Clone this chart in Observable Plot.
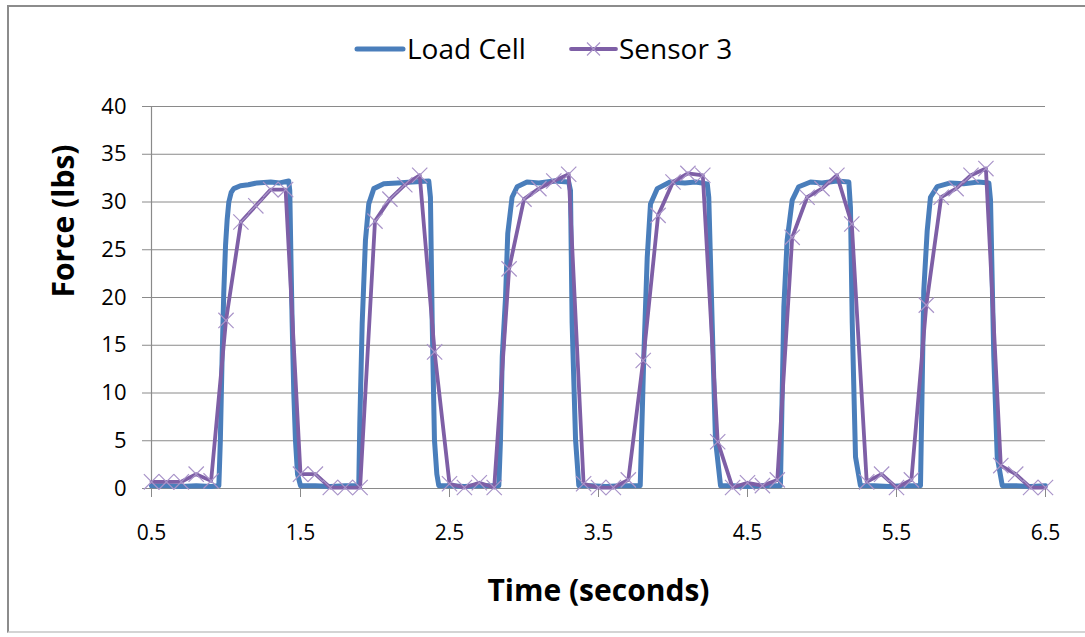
<!DOCTYPE html>
<html>
<head>
<meta charset="utf-8">
<script src="https://cdn.jsdelivr.net/npm/d3@7"></script>
<script src="https://cdn.jsdelivr.net/npm/@observablehq/plot@0.6"></script>
<style>
  html, body { margin: 0; padding: 0; background: #fff; }
  #wrap { position: relative; width: 1085px; height: 637px; overflow: hidden; }
  #border { position: absolute; left: 7px; top: 5px; width: 1090px; height: 628px;
            border: 2px solid #8c8c8c; border-bottom-color: #d4d4d4; box-sizing: border-box; }
  #legend { position: absolute; left: 0; top: 0; }
  #chart { position: absolute; left: 0; top: 0; }
</style>
</head>
<body>
<div id="wrap">
  <div id="border"></div>
  <div id="chart"></div>
  <svg id="legend" width="1085" height="90"></svg>
</div>
<script>
// ---- Data ----
const seriesNames = ["Load Cell", "Sensor 3"];
const xTicks = [0.5, 1.5, 2.5, 3.5, 4.5, 5.5, 6.5];
const yTicks = [0, 5, 10, 15, 20, 25, 30, 35, 40];

// Load Cell (dense signal, key points)
const loadTime = [
  0.50, 0.60, 0.70, 0.80, 0.90, 0.952, 0.962, 0.974, 0.985, 0.997, 1.008, 1.019, 1.035, 1.052, 1.097, 1.15, 1.209, 1.30, 1.36, 1.421,
  1.428, 1.436, 1.444, 1.455, 1.466, 1.48, 1.50, 1.60, 1.70, 1.80, 1.891,
  1.898, 1.914, 1.936, 1.958, 1.992, 2.059, 2.15, 2.25, 2.361, 2.372, 2.384, 2.399, 2.415, 2.428, 2.50, 2.60, 2.70, 2.831,
  2.842, 2.854, 2.876, 2.891, 2.92, 2.954, 3.02, 3.10, 3.20, 3.30, 3.312, 3.323, 3.346, 3.368, 3.45, 3.55, 3.65, 3.78,
  3.804, 3.827, 3.849, 3.894, 3.98, 4.08, 4.15, 4.23, 4.24, 4.263, 4.285, 4.319, 4.40, 4.50, 4.60, 4.721,
  4.744, 4.766, 4.80, 4.844, 4.923, 5.00, 5.10, 5.18, 5.191, 5.203, 5.225, 5.258, 5.35, 5.45, 5.55, 5.661,
  5.683, 5.706, 5.728, 5.773, 5.862, 5.95, 6.05, 6.12, 6.131, 6.153, 6.176, 6.21, 6.30, 6.40, 6.50
];
const loadForce = [
  0.3, 0.3, 0.2, 0.3, 0.2, 0.3, 5.0, 13.8, 20.5, 25.5, 28.2, 30.0, 31.0, 31.4, 31.7, 31.8, 32.0, 32.1, 32.0, 32.2,
  31.2, 24.0, 17.3, 10.0, 5.1, 1.5, 0.3, 0.3, 0.2, 0.3, 0.3,
  6.8, 17.3, 26.0, 29.8, 31.4, 31.9, 32.0, 32.1, 32.2, 30.5, 17.3, 5.1, 1.5, 0.3, 0.3, 0.2, 0.3, 0.3,
  5.0, 13.8, 20.0, 26.7, 30.5, 31.6, 32.1, 32.0, 32.2, 32.1, 31.2, 17.3, 5.1, 0.3, 0.3, 0.2, 0.3, 0.3,
  13.8, 24.2, 29.8, 31.4, 32.1, 32.0, 32.1, 31.9, 30.5, 17.3, 5.1, 0.3, 0.3, 0.2, 0.3, 0.3,
  19.0, 26.0, 30.2, 31.6, 32.1, 32.0, 32.2, 32.1, 29.4, 17.3, 3.3, 0.3, 0.3, 0.2, 0.3, 0.3,
  20.7, 27.0, 30.5, 31.6, 32.0, 31.9, 32.1, 32.0, 30.2, 13.8, 3.3, 0.3, 0.3, 0.2, 0.3
];

// Sensor 3 (sampled every 0.1 s)
const sensorTime = [
  0.5, 0.6, 0.7, 0.8, 0.9, 1.0, 1.1, 1.2, 1.3, 1.4, 1.5, 1.6, 1.7, 1.8, 1.9, 2.0, 2.1, 2.2, 2.3, 2.4,
  2.5, 2.6, 2.7, 2.8, 2.9, 3.0, 3.1, 3.2, 3.3, 3.4, 3.5, 3.6, 3.7, 3.8, 3.9, 4.0, 4.1, 4.2, 4.3, 4.4,
  4.5, 4.6, 4.7, 4.8, 4.9, 5.0, 5.1, 5.2, 5.3, 5.4, 5.5, 5.6, 5.7, 5.8, 5.9, 6.0, 6.1, 6.2, 6.3, 6.4, 6.5
];
const sensorForce = [
  0.7, 0.7, 0.7, 1.5, 0.8, 17.6, 27.9, 29.6, 31.3, 31.3, 1.5, 1.5, 0.1, 0.1, 0.1, 28.0, 30.3, 31.8, 32.8, 14.3,
  0.5, 0.1, 0.6, 0.1, 23.0, 30.3, 31.4, 32.2, 32.9, 0.5, 0.1, 0.1, 0.9, 13.4, 28.6, 32.1, 33.0, 32.8, 4.9, 0.1,
  0.6, 0.3, 0.9, 26.3, 30.5, 31.4, 32.8, 27.7, 0.7, 1.5, 0.1, 0.9, 19.2, 30.5, 31.4, 32.8, 33.5, 2.4, 1.5, 0.1, 0.1
];

const blue = "#4A7EBB";
const purple = "#7E5FA6";
const markerColor = "#A994C9";
const gridColor = "#8a8a8a";
const fontFam = "'Open Sans', 'DejaVu Sans', sans-serif";

const load = loadTime.map((t, i) => ({t, f: loadForce[i]}));
const sensor = sensorTime.map((t, i) => ({t, f: sensorForce[i]}));

const chart = Plot.plot({
  width: 1085,
  height: 637,
  marginLeft: 151,
  marginRight: 40,
  marginTop: 106,
  marginBottom: 149,
  style: {fontFamily: fontFam, background: "transparent", overflow: "visible"},
  x: {domain: [0.5, 6.5]},
  y: {domain: [0, 40]},
  marks: [
    Plot.gridY(yTicks, {stroke: gridColor, strokeOpacity: 1, strokeWidth: 1, x1: 0.5, x2: 6.5}),
    Plot.axisY(yTicks, {tickSize: 9, tickPadding: 16, stroke: gridColor, fontSize: 22, fill: "#000", label: null, tickFormat: d => String(d)}),
    Plot.axisX(xTicks, {tickSize: 9, tickPadding: 28, stroke: gridColor, fontSize: 21, fill: "#000", label: null, tickFormat: d => String(d)}),
    Plot.ruleX([0.5], {y1: 0, y2: 40, stroke: gridColor, strokeWidth: 1.2}),
    Plot.ruleY([0], {stroke: gridColor, strokeWidth: 1.2}),
    Plot.line(load, {x: "t", y: "f", stroke: blue, strokeWidth: 5, strokeLinejoin: "round"}),
    Plot.line(sensor, {x: "t", y: "f", stroke: purple, strokeWidth: 3.8, strokeLinejoin: "round"}),
    Plot.dot(sensor, {x: "t", y: "f", symbol: "times", r: 7, stroke: markerColor, strokeWidth: 1.2}),
    Plot.text(["Force (lbs)"], {text: d => d, frameAnchor: "left", dx: -87, rotate: -90, fontSize: 30, fontWeight: "bold", fill: "#000"}),
    Plot.text(["Time (seconds)"], {text: d => d, frameAnchor: "bottom", dy: 103, fontSize: 30, fontWeight: "bold", fill: "#000", lineAnchor: "middle"})
  ]
});
document.getElementById("chart").appendChild(chart);

// ---- Legend ----
const lg = d3.select("#legend");
const legendItems = [
  {name: seriesNames[0], color: blue, x1: 357, x2: 403, tx: 407, marker: false, w: 5},
  {name: seriesNames[1], color: purple, x1: 571, x2: 616, tx: 619, marker: true, w: 3.8}
];
for (const it of legendItems) {
  lg.append("line").attr("x1", it.x1).attr("x2", it.x2).attr("y1", 49).attr("y2", 49)
    .attr("stroke", it.color).attr("stroke-width", it.w).attr("stroke-linecap", "round");
  if (it.marker) {
    const cx = (it.x1 + it.x2) / 2, s = 6.5;
    lg.append("path").attr("d", `M${cx - s},${49 - s}L${cx + s},${49 + s}M${cx - s},${49 + s}L${cx + s},${49 - s}`)
      .attr("stroke", markerColor).attr("stroke-width", 1.2).attr("fill", "none");
  }
  lg.append("text").attr("x", it.tx).attr("y", 59).attr("font-family", fontFam).attr("font-size", 28)
    .attr("fill", "#000").text(it.name);
}
</script>
</body>
</html>
